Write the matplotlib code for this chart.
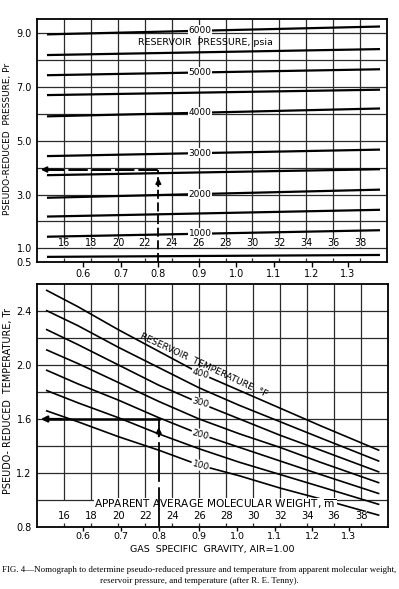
import matplotlib.pyplot as plt
import numpy as np

# molecular weight grid and the gas gravity scale that goes with it
mw_ticks = [16, 18, 20, 22, 24, 26, 28, 30, 32, 34, 36, 38]
sg_labels = ["0.6", "0.7", "0.8", "0.9", "1.0", "1.1", "1.2", "1.3"]
sg_at_mw = [17.4, 20.2, 23.0, 26.0, 28.8, 31.6, 34.4, 37.1]

# reservoir pressure lines: Pr read at left and right ends
p_mw = [14.8, 39.4]
p_psia = [6000, 5500, 5000, 4500, 4000, 3000, 2500, 2000, 1500, 1000, 500]
p_left = [8.96, 8.19, 7.44, 6.70, 5.91, 4.43, 3.72, 2.88, 2.18, 1.43, 0.68]
p_right = [9.25, 8.41, 7.66, 6.90, 6.20, 4.67, 3.94, 3.18, 2.43, 1.67, 0.75]
p_labeled = [6000, 5000, 4000, 3000, 2000, 1000]

# reservoir temperature curves (deg F): Tr read along molecular weight
t_mw = [14.7, 17, 20, 23, 26, 29, 32, 35, 39.3]
t_degf = [400, 350, 300, 250, 200, 150, 100]
tr_400 = [2.55, 2.43, 2.26, 2.10, 1.94, 1.81, 1.68, 1.55, 1.37]
tr_350 = [2.40, 2.29, 2.13, 1.98, 1.83, 1.70, 1.58, 1.46, 1.29]
tr_300 = [2.26, 2.15, 2.00, 1.85, 1.72, 1.60, 1.48, 1.37, 1.21]
tr_250 = [2.11, 2.01, 1.87, 1.73, 1.60, 1.49, 1.39, 1.28, 1.13]
tr_200 = [1.96, 1.86, 1.74, 1.61, 1.49, 1.39, 1.29, 1.19, 1.05]
tr_150 = [1.81, 1.72, 1.61, 1.49, 1.38, 1.28, 1.19, 1.10, 0.97]
tr_100 = [1.66, 1.58, 1.47, 1.37, 1.26, 1.18, 1.09, 1.01, 0.89]
t_curves = [tr_400, tr_350, tr_300, tr_250, tr_200, tr_150, tr_100]
t_labeled = [400, 300, 200, 100]

# worked example
ex_mw = 23.0
ex_pr = 3.93
ex_tr = 1.6

grid_c = "#2b2b2b"
lbl_box = dict(fc="white", ec="none", pad=0.6)
band_box = dict(fc="white", ec="none", pad=0.1)

fig = plt.figure(figsize=(3.99, 5.89), dpi=100)
ax1 = fig.add_axes([0.0935, 0.5557, 0.8764, 0.4120])
ax2 = fig.add_axes([0.0935, 0.1047, 0.8790, 0.4131])

for ax in (ax1, ax2):
    ax.set_xlim(14, 40)
    for s in ax.spines.values():
        s.set_linewidth(1.3)
    ax.tick_params(axis="y", length=0, pad=4, labelsize=7)
    ax.tick_params(axis="x", length=3.5, width=1, direction="out",
                   labelsize=7, pad=2)
    ax.set_xticks(sg_at_mw, sg_labels)
ax2.tick_params(axis="x", length=3, pad=0.5, labelsize=6.8)

# ---- top: pseudo-reduced pressure ----
ax1.set_ylim(0.5, 9.53)
ax1.set_yticks([0.5, 1, 3, 5, 7, 9], ["0.5", "1.0", "3.0", "5.0", "7.0", "9.0"])
for y in range(1, 10):
    ax1.axhline(y, color=grid_c, lw=0.9, zorder=1)
ax1.vlines(mw_ticks, 1.33, 9.53, color=grid_c, lw=0.9, zorder=1)
ax1.vlines(mw_ticks, 0.5, 0.62, color=grid_c, lw=0.9, zorder=1)
ax1.vlines(mw_ticks, 1.0, 1.05, color=grid_c, lw=0.9, zorder=1)

for p, l, r in zip(p_psia, p_left, p_right):
    ax1.plot(p_mw, [l, r], color="black", lw=1.6, zorder=2)
    if p in p_labeled:
        ax1.text(26.1, np.interp(26.1, p_mw, [l, r]), str(p), ha="center",
                 va="center", fontsize=6.5, bbox=lbl_box, zorder=3)

ax1.text(26.5, 8.67, "RESERVOIR  PRESSURE, psia", ha="center", va="center",
         fontsize=6.8, zorder=3)
for m in mw_ticks:
    ax1.text(m, 1.19, str(m), ha="center", va="center", fontsize=7, zorder=3)

ax1.plot([ex_mw, ex_mw], [0.5, ex_pr], color="black", lw=1.3,
         ls=(0, (5, 2)), zorder=3)
ax1.plot([14.6, ex_mw], [ex_pr, ex_pr], color="black", lw=1.4,
         ls=(0, (10, 2)), zorder=3)
ax1.annotate("", xy=(ex_mw, 3.72), xytext=(ex_mw, 3.2),
             arrowprops=dict(arrowstyle="-|>", color="black", lw=1.2,
                             mutation_scale=8), zorder=4)
ax1.annotate("", xy=(14.05, ex_pr), xytext=(16.0, ex_pr),
             arrowprops=dict(arrowstyle="-|>", color="black", lw=1.4,
                             mutation_scale=8), zorder=4)

# ---- bottom: pseudo-reduced temperature ----
ax2.set_ylim(0.8, 2.597)
ax2.set_yticks([0.8, 1.2, 1.6, 2.0, 2.4], ["0.8", "1.2", "1.6", "2.0", "2.4"])
for y in [1.0, 1.2, 1.4, 1.6, 1.8, 2.0, 2.2, 2.4]:
    ax2.axhline(y, color=grid_c, lw=0.9, zorder=1)
ax2.vlines(mw_ticks, 1.0, 2.6, color=grid_c, lw=0.9, zorder=1)
ax2.vlines(mw_ticks, 0.8, 0.835, color=grid_c, lw=0.9, zorder=1)

for t, tr in zip(t_degf, t_curves):
    ax2.plot(t_mw, tr, color="black", lw=1.2, zorder=2)
    if t in t_labeled:
        ax2.text(26.1, np.interp(26.1, t_mw, tr), str(t), ha="center",
                 va="center", fontsize=6.5, rotation=-15, bbox=lbl_box,
                 zorder=3)

ax2.text(26.3, 2.0, "RESERVOIR  TEMPERATURE, \u00b0F", ha="center",
         va="center", fontsize=6.6, rotation=-25, rotation_mode="anchor",
         zorder=3)

ax2.text(27.2, 0.968, r"APPARENT AVERAGE MOLECULAR WEIGHT, $\overline{\mathrm{m}}$",
         ha="center", va="center", fontsize=7.6, bbox=band_box, zorder=3)
for m in mw_ticks:
    ax2.text(m, 0.885, str(m), ha="center", va="center", fontsize=7.2,
             bbox=band_box, zorder=3)

ax2.plot([ex_mw, ex_mw], [0.8, ex_tr], color="black", lw=1.3,
         ls=(0, (22, 3)), zorder=4)
ax2.plot([14.6, ex_mw], [ex_tr, ex_tr], color="black", lw=1.8, zorder=4)
ax2.annotate("", xy=(ex_mw, 1.56), xytext=(ex_mw, 1.45),
             arrowprops=dict(arrowstyle="-|>", color="black", lw=1.2,
                             mutation_scale=8), zorder=5)
ax2.annotate("", xy=(14.05, ex_tr), xytext=(16.0, ex_tr),
             arrowprops=dict(arrowstyle="-|>", color="black", lw=1.6,
                             mutation_scale=9), zorder=5)

ax2.text(0.5, -0.092, "GAS  SPECIFIC  GRAVITY, AIR=1.00", transform=ax2.transAxes,
         ha="center", va="center", fontsize=6.8)

fig.text(8 / 399, 1 - 139 / 589, "PSEUDO-REDUCED  PRESSURE, Pr", rotation=90,
         ha="center", va="center", fontsize=6.5)
fig.text(8 / 399, 1 - 401 / 589, "PSEUDO- REDUCED  TEMPERATURE, Tr", rotation=90,
         ha="center", va="center", fontsize=6.9)

fig.text(0.5, 1 - 570 / 589,
         "FIG. 4\u2014Nomograph to determine pseudo-reduced pressure and "
         "temperature from apparent molecular weight,",
         ha="center", va="center", fontsize=6.4, family="Liberation Serif")
fig.text(0.5, 1 - 581 / 589,
         "reservoir pressure, and temperature (after R. E. Tenny).",
         ha="center", va="center", fontsize=6.4, family="Liberation Serif")

fig.savefig("out.png", dpi=100)
